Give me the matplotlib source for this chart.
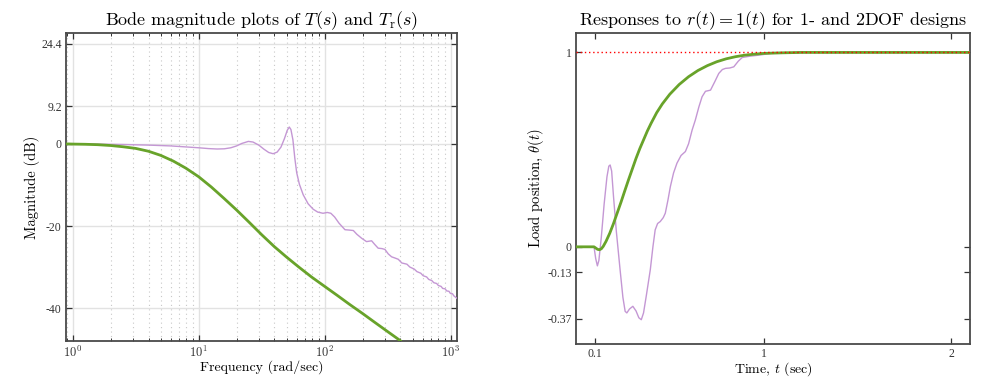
import matplotlib
matplotlib.use("Agg")
import matplotlib.pyplot as plt

plt.rcParams['font.family'] = ['cmr10', 'DejaVu Serif']
plt.rcParams['mathtext.fontset'] = 'cm'
plt.rcParams['axes.unicode_minus'] = False

# ---- Bode magnitudes (rad/sec, dB) ----
# 1DOF: T(s)
w_T = [0.885, 1.5, 2.5, 4, 6, 8, 10, 12, 14, 16, 18, 20, 22, 24.8, 27, 30, 33, 36, 39, 42,
       45, 48, 50.5, 52.4, 54, 56, 58, 60, 63, 67.6, 74, 81, 88, 97, 105, 112, 120, 130,
       145, 158, 169, 180, 197, 215, 236, 250, 266, 285, 301, 320, 340, 362, 384, 410,
       450, 475, 515, 540, 580, 605, 645, 670, 710, 735, 775, 800, 840, 865, 905, 930,
       970, 995, 1035, 1060, 1122]
mag_T = [0.0, -0.05, -0.15, -0.3, -0.5, -0.75, -0.95, -1.15, -1.25, -1.2, -0.95, -0.5, 0.1,
         0.6, 0.45, -0.3, -1.3, -2.1, -2.4, -2.0, -0.8, 1.3, 3.3, 4.1, 3.5, 1.0, -3.5, -7.0,
         -9.8, -12.4, -14.6, -15.9, -16.6, -16.9, -16.7, -16.9, -17.8, -19.3, -20.9, -21.0,
         -21.1, -22.0, -23.0, -23.8, -23.6, -24.5, -25.4, -25.5, -25.7, -26.8, -27.5, -27.8,
         -28.1, -29.0, -29.3, -30.0, -30.5, -31.1, -31.5, -32.1, -32.4, -33.0, -33.3, -33.8,
         -34.0, -34.5, -34.7, -35.2, -35.3, -35.8, -35.9, -36.4, -36.5, -37.0, -37.6]

# 2DOF: Tr(s)
w_Tr = [0.885, 1.0, 1.26, 1.58, 2.0, 2.5, 3.16, 4.0, 5.0, 6.3, 7.9, 10, 12.6, 15.8, 20, 25,
        31.6, 39.8, 50, 63, 79, 100, 126, 158, 200, 251, 316, 398]
mag_Tr = [0.0, -0.05, -0.1, -0.2, -0.4, -0.7, -1.1, -1.8, -2.8, -4.2, -5.9, -8.0, -10.5,
          -13.2, -16.1, -19.0, -22.1, -25.0, -27.6, -30.1, -32.45, -34.7, -36.9, -39.1,
          -41.3, -43.5, -45.7, -47.9]

# ---- step responses ----
t_1dof = [0, 0.096, 0.105, 0.114, 0.122, 0.135, 0.15, 0.165, 0.175, 0.182, 0.19, 0.2, 0.215,
          0.235, 0.25, 0.262, 0.271, 0.285, 0.303, 0.32, 0.335, 0.348, 0.36, 0.375, 0.396,
          0.41, 0.422, 0.435, 0.449, 0.465, 0.476, 0.49, 0.503, 0.52, 0.538, 0.56, 0.583,
          0.6, 0.619, 0.636, 0.655, 0.672, 0.69, 0.717, 0.74, 0.761, 0.78, 0.797, 0.82,
          0.841, 0.865, 0.886, 0.93, 0.975, 1.04, 1.2, 2.1]
y_1dof = [0, 0, -0.06, -0.098, -0.07, 0.05, 0.22, 0.36, 0.415, 0.421, 0.39, 0.258, 0.08,
          -0.118, -0.26, -0.332, -0.34, -0.32, -0.306, -0.33, -0.365, -0.375, -0.34, -0.25,
          -0.118, 0.0, 0.087, 0.12, 0.13, 0.15, 0.173, 0.24, 0.31, 0.38, 0.43, 0.47, 0.49,
          0.53, 0.601, 0.652, 0.72, 0.772, 0.80, 0.806, 0.85, 0.892, 0.912, 0.918, 0.92,
          0.926, 0.955, 0.974, 0.981, 0.986, 0.995, 1.0, 1.0]

t_2dof = [0, 0.096, 0.105, 0.115, 0.125, 0.135, 0.145, 0.16, 0.18, 0.2, 0.22, 0.24, 0.26,
          0.28, 0.30, 0.32, 0.34, 0.36, 0.38, 0.40, 0.43, 0.46, 0.50, 0.55, 0.60, 0.65,
          0.70, 0.75, 0.80, 0.85, 0.90, 0.95, 1.0, 1.1, 1.2, 2.1]
y_2dof = [0, 0, -0.006, -0.013, -0.015, -0.01, 0.002, 0.028, 0.07, 0.12, 0.175, 0.23, 0.288,
          0.345, 0.40, 0.455, 0.505, 0.55, 0.595, 0.635, 0.69, 0.735, 0.785, 0.835, 0.875,
          0.907, 0.932, 0.952, 0.967, 0.978, 0.986, 0.991, 0.995, 0.998, 1.0, 1.0]

purple = '#c497d4'
green = '#68a32a'
frame = '#4a4a4a'
tickfont = {'family': 'Liberation Serif', 'size': 8.5}

fig = plt.figure(figsize=(9.89, 3.77), dpi=100)
ax1 = fig.add_axes([0.0667, 0.0955, 0.3953, 0.817])
ax2 = fig.add_axes([0.5824, 0.0875, 0.3984, 0.825])

# left: Bode magnitude
ax1.semilogx(w_T, mag_T, color=purple, lw=1.0, zorder=3)
ax1.semilogx(w_Tr, mag_Tr, color=green, lw=2.0, zorder=4)
ax1.set_xlim(0.885, 1122)
ax1.set_ylim(-48, 27)
ax1.set_yticks([-40, -20, 0, 9.2, 24.4])
ax1.set_yticklabels(['-40', '-20', '0', '9.2', '24.4'], fontdict=tickfont)
ax1.set_xticks([1, 10, 100, 1000])
ax1.set_xticklabels([r'$10^{0}$', r'$10^{1}$', r'$10^{2}$', r'$10^{3}$'], fontsize=9)
ax1.grid(True, which='major', color='#e2e2e2', lw=1.0, ls='-', zorder=0)
ax1.grid(True, which='minor', axis='x', color='#c8c8c8', lw=0.8, ls=(0, (1, 3)), zorder=0)
ax1.set_title(r'Bode magnitude plots of $T(s)$ and $T_{\rm r}(s)$', fontsize=13, pad=6)
ax1.set_xlabel('Frequency (rad/sec)', fontsize=10, labelpad=0)
ax1.set_ylabel('Magnitude (dB)', fontsize=10.5, labelpad=1)

# right: step responses
ax2.axhline(1, color='red', lw=1.0, ls=(0, (1, 2)), zorder=5)
ax2.plot(t_1dof, y_1dof, color=purple, lw=1.0, zorder=3)
ax2.plot(t_2dof, y_2dof, color=green, lw=2.0, zorder=4)
ax2.set_xlim(0, 2.1)
ax2.set_ylim(-0.5, 1.1)
ax2.set_xticks([0.1, 1, 2])
ax2.set_xticklabels(['0.1', '1', '2'], fontdict=tickfont)
ax2.set_yticks([-0.37, -0.13, 0, 1])
ax2.set_yticklabels(['-0.37', '-0.13', '0', '1'], fontdict=tickfont)
ax2.set_title(r'Responses to $r(t)=1(t)$ for 1- and 2DOF designs', fontsize=13, pad=6)
ax2.set_xlabel(r'Time, $t$ (sec)', fontsize=10, labelpad=0)
ax2.set_ylabel(r'Load position, $\theta(t)$', fontsize=10.5, labelpad=1)

for ax in (ax1, ax2):
    for s in ax.spines.values():
        s.set_color(frame)
        s.set_linewidth(1.3)
    ax.tick_params(which='both', direction='in', top=True, right=True, color='#333333',
                   labelcolor='#333333', pad=3)
    ax.tick_params(which='major', length=4, width=0.9)
    ax.tick_params(which='minor', length=2.5, width=0.7)

fig.savefig('out.png', dpi=100)
